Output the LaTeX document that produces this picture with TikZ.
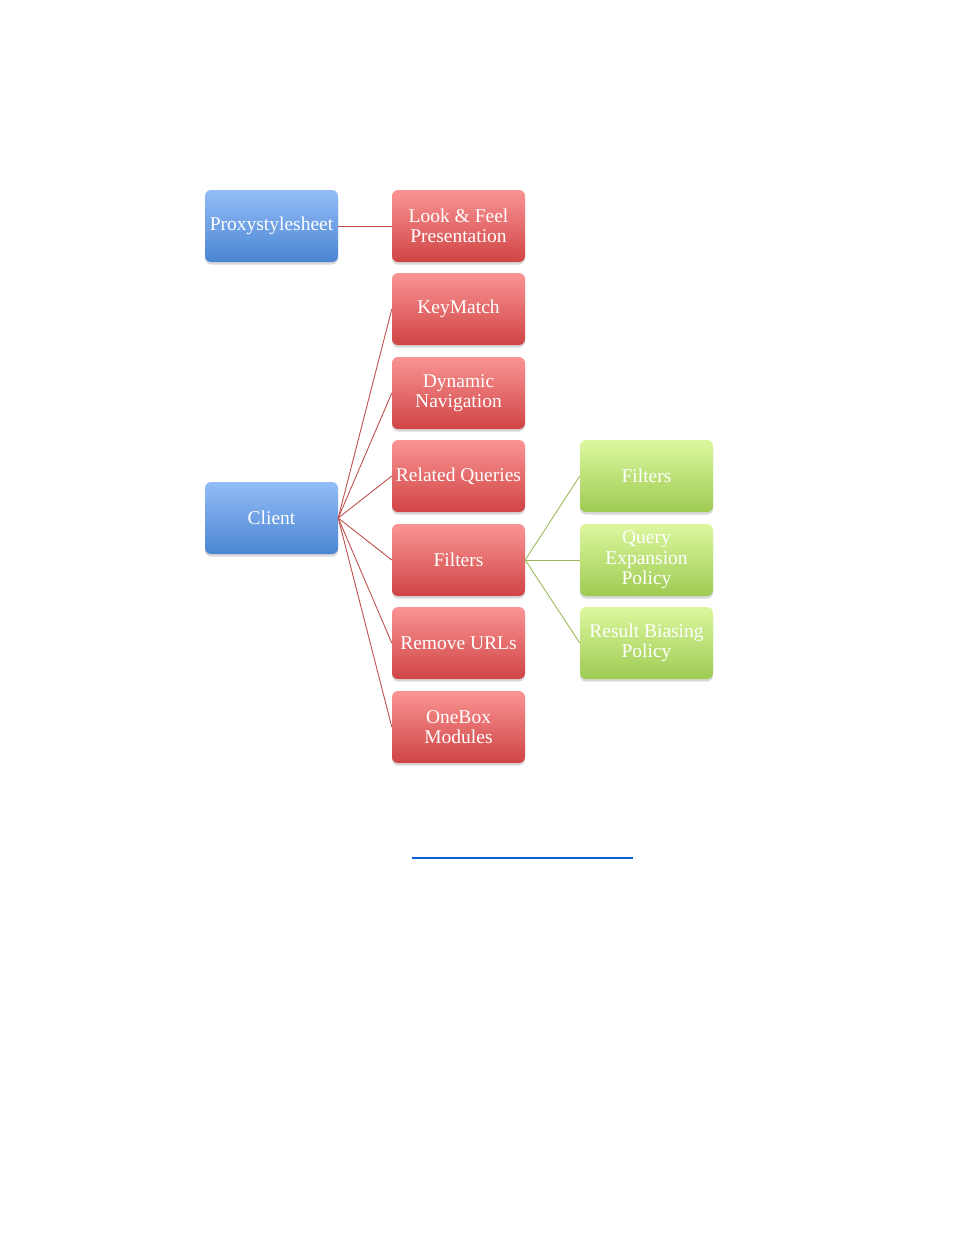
\documentclass[tikz,border=0pt]{standalone}
\usepackage{fontspec}
\setmainfont{Liberation Serif}
\usetikzlibrary{shadows}
\definecolor{bluetop}{HTML}{94BDF7}
\definecolor{bluebot}{HTML}{4A85D2}
\definecolor{redtop}{HTML}{FA9494}
\definecolor{redbot}{HTML}{D04444}
\definecolor{greentop}{HTML}{DDF79F}
\definecolor{greenbot}{HTML}{9DCB52}
\definecolor{redline}{HTML}{C0504D}
\definecolor{greenline}{HTML}{9BBB59}
\definecolor{linkblue}{HTML}{0B5ED7}
\tikzset{
  boxbase/.style={rectangle, rounded corners=6pt, minimum width=133pt, minimum height=72pt,
    inner sep=1pt, align=center, text=white, font=\fontsize{19.5}{20.5}\selectfont,
    drop shadow={opacity=0.3, shadow xshift=0pt, shadow yshift=-2.5pt}},
  bluebox/.style={boxbase, top color=bluetop, bottom color=bluebot},
  redbox/.style={boxbase, top color=redtop, bottom color=redbot},
  greenbox/.style={boxbase, top color=greentop, bottom color=greenbot},
  redconn/.style={draw=redline, line width=0.9pt},
  greenconn/.style={draw=greenline, line width=0.9pt},
}
\begin{document}
\begin{tikzpicture}[x=1pt,y=-1pt]
\useasboundingbox (0,0) rectangle (954,1235);
\node[bluebox] (proxy) at (271.5,226) {Proxystylesheet};
\node[bluebox] (client) at (271.5,518) {Client};
\node[redbox] (look) at (458.5,226) {Look \& Feel\\Presentation};
\node[redbox] (keymatch) at (458.5,309) {KeyMatch};
\node[redbox] (dynnav) at (458.5,393) {Dynamic\\Navigation};
\node[redbox] (related) at (458.5,476) {Related Queries};
\node[redbox] (filters) at (458.5,560) {Filters};
\node[redbox] (remove) at (458.5,643) {Remove URLs};
\node[redbox] (onebox) at (458.5,727) {OneBox\\Modules};
\node[greenbox] (gfilters) at (646.5,476) {Filters};
\node[greenbox] (query) at (646.5,560) {Query\\Expansion\\Policy};
\node[greenbox] (bias) at (646.5,643) {Result Biasing\\Policy};
\draw[redconn] (proxy.east) -- (look.west);
\foreach \t in {keymatch,dynnav,related,filters,remove,onebox}
  \draw[redconn] (client.east) -- (\t.west);
\foreach \t in {gfilters,query,bias}
  \draw[greenconn] (filters.east) -- (\t.west);
\coordinate (linkL) at (412,858);
\coordinate (linkR) at (633,858);
\draw[linkblue, line width=1.3pt] (linkL) -- (linkR);
\end{tikzpicture}
\end{document}
